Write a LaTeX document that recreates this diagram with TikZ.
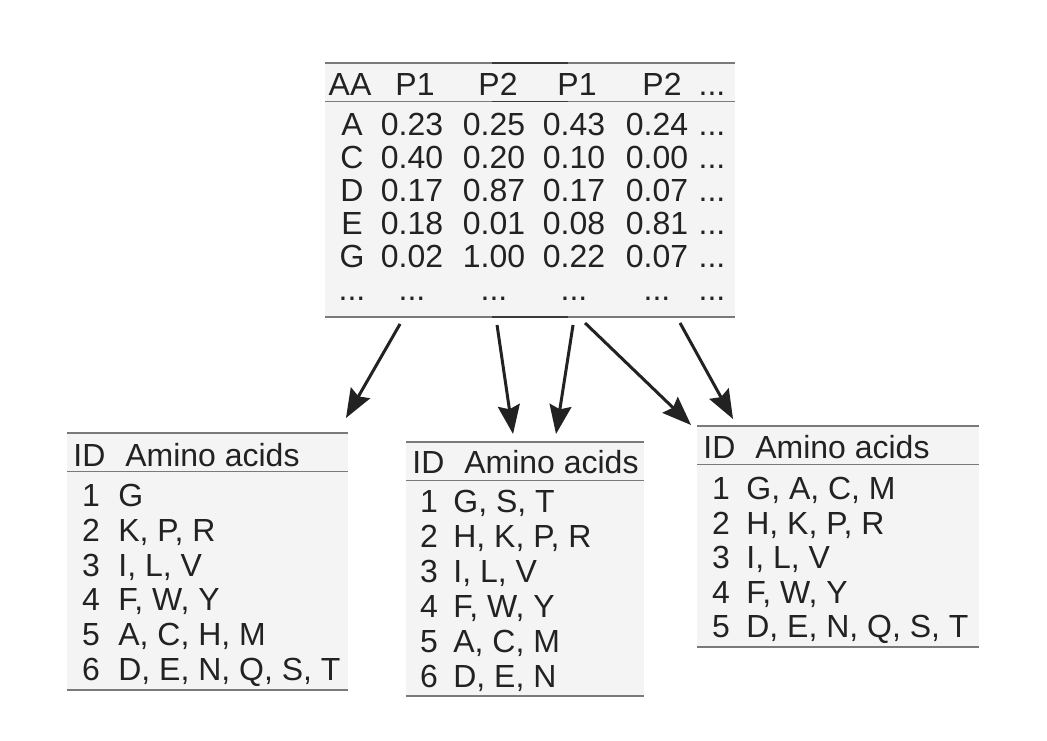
\documentclass[tikz,border=0pt]{standalone}
\usepackage{fontspec}
\setmainfont{Liberation Sans}
\usepackage{tikz}
\usetikzlibrary{shapes,arrows.meta,calc}
\definecolor{tabgray}{HTML}{F4F4F4}
\definecolor{rulegray}{HTML}{7A7A7A}
\definecolor{ruledark}{HTML}{3A3A3A}
\definecolor{inkgray}{HTML}{222222}
\newcommand{\dts}{...}
\tikzstyle{tabbox} = [rectangle, fill=tabgray, inner sep=0pt, outer sep=0pt]
\tikzstyle{rule} = [draw=rulegray, line width=0.03cm]
\tikzstyle{headtxt} = [inner sep=0pt, anchor=base, text=inkgray, font=\fontsize{18.2}{21}\selectfont]
\tikzstyle{celltxt} = [inner sep=0pt, anchor=base, text=inkgray, font=\fontsize{18.2}{21}\selectfont]
\tikzstyle{line} = [draw=inkgray, line width=0.06cm, -{Stealth[length=0.58cm, width=0.44cm, inset=0.08cm]}]

\begin{document}
\begin{tikzpicture}[x=0.02cm, y=-0.02cm]
  \useasboundingbox (0,0) rectangle (1047,740);

  % tables
  \node [tabbox, minimum width=8.2cm, minimum height=5.08cm] (toptab) at (530,190) {};
  \node [tabbox, minimum width=5.62cm, minimum height=5.14cm] (lefttab) at (207.5,561.5) {};
  \node [tabbox, minimum width=4.76cm, minimum height=5.08cm] (midtab) at (525,569) {};
  \node [tabbox, minimum width=5.64cm, minimum height=4.42cm] (righttab) at (838,536.5) {};

  % rules
  \foreach \t in {toptab,lefttab,midtab,righttab} {
    \draw [rule] (\t.north west) -- (\t.north east);
    \draw [rule] ([shift={(0,38.5)}]\t.north west) -- ([shift={(0,38.5)}]\t.north east);
    \draw [rule] (\t.south west) -- (\t.south east);
  }
  % darker piece where the rules overlap
  \foreach \dy in {0,38.5,254}
    \draw [rule, draw=ruledark] ([shift={(167,\dy)}]toptab.north west) -- ([shift={(243,\dy)}]toptab.north west);

  % profile table
  \foreach \x/\h [count=\j] in {350/AA, 415/P1, 498/P2, 577/P1, 662/P2, 712/\dts}
    \node [headtxt] (head\j) at (\x,95.5) {\h};
  \foreach \aa/\pa/\pb/\pc/\pd [count=\r] in {A/0.23/0.25/0.43/0.24, C/0.40/0.20/0.10/0.00,
      D/0.17/0.87/0.17/0.07, E/0.18/0.01/0.08/0.81, G/0.02/1.00/0.22/0.07, \dts/\dts/\dts/\dts/\dts} {
    \node [celltxt] (aa\r) at (352,{102.5+33*\r}) {\aa};
    \node [celltxt] (pa\r) at (412,{102.5+33*\r}) {\pa};
    \node [celltxt] (pb\r) at (494,{102.5+33*\r}) {\pb};
    \node [celltxt] (pc\r) at (574,{102.5+33*\r}) {\pc};
    \node [celltxt] (pd\r) at (657,{102.5+33*\r}) {\pd};
    \node [celltxt] (more\r) at (712,{102.5+33*\r}) {\dts};
  }

  % left alphabet
  \node [headtxt, anchor=base west] (lid) at ([shift={(6,33)}]lefttab.north west) {ID};
  \node [headtxt, anchor=base west] (lhead) at ([shift={(58,33)}]lefttab.north west) {Amino acids};
  \foreach \g [count=\k] in {G, {K, P, R}, {I, L, V}, {F, W, Y}, {A, C, H, M}, {D, E, N, Q, S, T}} {
    \node [celltxt] (lnum\k) at ([shift={(24,{38.7+34.8*\k})}]lefttab.north west) {\k};
    \node [celltxt, anchor=base west] (lgrp\k) at ([shift={(51,{38.7+34.8*\k})}]lefttab.north west) {\g};
  }

  % middle alphabet
  \node [headtxt, anchor=base west] (mid) at ([shift={(6,31.5)}]midtab.north west) {ID};
  \node [headtxt, anchor=base west] (mhead) at ([shift={(58,31.5)}]midtab.north west) {Amino acids};
  \foreach \g [count=\k] in {{G, S, T}, {H, K, P, R}, {I, L, V}, {F, W, Y}, {A, C, M}, {D, E, N}} {
    \node [celltxt] (mnum\k) at ([shift={(23,{35.5+35*\k})}]midtab.north west) {\k};
    \node [celltxt, anchor=base west] (mgrp\k) at ([shift={(47,{35.5+35*\k})}]midtab.north west) {\g};
  }

  % right alphabet
  \node [headtxt, anchor=base west] (rid) at ([shift={(6,32.5)}]righttab.north west) {ID};
  \node [headtxt, anchor=base west] (rhead) at ([shift={(58,32.5)}]righttab.north west) {Amino acids};
  \foreach \g [count=\k] in {{G, A, C, M}, {H, K, P, R}, {I, L, V}, {F, W, Y}, {D, E, N, Q, S, T}} {
    \node [celltxt] (rnum\k) at ([shift={(24,{39+34.5*\k})}]righttab.north west) {\k};
    \node [celltxt, anchor=base west] (rgrp\k) at ([shift={(49,{39+34.5*\k})}]righttab.north west) {\g};
  }

  % edges
  \path [line] ([shift={(75,7)}]toptab.south west) -- ([shift={(-2,-15)}]lefttab.north east);
  \path [line] ([shift={(172,8)}]toptab.south west) -- ([shift={(107,-8)}]midtab.north west);
  \path [line] ([shift={(248,8)}]toptab.south west) -- ([shift={(150,-8)}]midtab.north west);
  \path [line] ([shift={(260,6)}]toptab.south west) -- ([shift={(-6,-1)}]righttab.north west);
  \path [line] ([shift={(355,6)}]toptab.south west) -- ([shift={(36,-7)}]righttab.north west);
\end{tikzpicture}
\end{document}
